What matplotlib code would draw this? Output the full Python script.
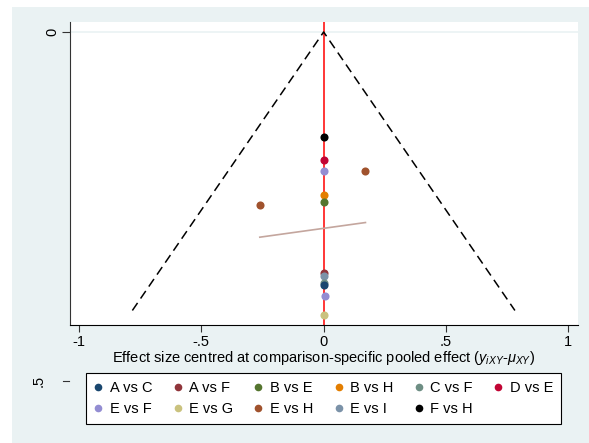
import matplotlib
matplotlib.use("Agg")
import matplotlib.pyplot as plt
from matplotlib.patches import Rectangle
from matplotlib.lines import Line2D
import matplotlib.transforms as mtransforms

plt.rcParams['font.family'] = ['Liberation Sans', 'DejaVu Sans']
plt.rcParams['mathtext.fontset'] = 'custom'
plt.rcParams['mathtext.rm'] = 'Liberation Sans'
plt.rcParams['mathtext.it'] = 'Liberation Sans:italic'

# comparisons (legend order) and their colours
comparisons = ["A vs C", "A vs F", "B vs E", "B vs H", "C vs F", "D vs E",
               "E vs F", "E vs G", "E vs H", "E vs I", "F vs H"]
colors = ["#1a476f", "#90353b", "#55752f", "#e37e00", "#6e8e84", "#c10534",
          "#938dd2", "#cac27e", "#a0522d", "#7b92a8", "#000000"]

# studies: comparison, centred effect, standard error
study_comp = ["F vs H", "D vs E", "E vs F", "E vs H", "B vs H", "B vs E",
              "E vs H", "A vs F", "E vs I", "C vs F", "A vs C", "E vs F", "E vs G"]
study_x = [0.0, 0.0, 0.0, 0.171, 0.0, 0.0, -0.261, 0.0, 0.0, 0.0, 0.0, 0.005, 0.0]
study_se = [0.150, 0.184, 0.199, 0.199, 0.2335, 0.243, 0.248,
            0.346, 0.349, 0.360, 0.363, 0.378, 0.406]

# regression line end points and funnel limit
reg_x = [-0.261, 0.171]
reg_y = [0.294, 0.273]
se_max = 0.399

fig = plt.figure(figsize=(5.89, 4.43), dpi=100, facecolor="white")
fig.patches.append(Rectangle((12 / 589, 0), 1, 1 - 7 / 443, transform=fig.transFigure,
                             facecolor="#eaf2f3", edgecolor="none", zorder=-10))
ax = fig.add_axes([70 / 589, 1 - 325 / 443, 508 / 589, 303 / 443])
ax.set_facecolor("white")

ax.axhline(0, color="#eaf2f3", lw=1.2, zorder=0)
ax.plot([-1.96 * se_max, 0, 1.96 * se_max], [se_max, 0, se_max], color="black",
        lw=1.1, dashes=(6, 3.5))
ax.axvline(0, color="red", lw=1.1, zorder=1)
ax.plot(reg_x, reg_y, color="#c4a69e", lw=1.2, zorder=2)

for c, x, se in zip(study_comp, study_x, study_se):
    ax.scatter(x, se, s=34, color=colors[comparisons.index(c)], zorder=3, linewidths=0)

ax.set_xlim(-1.037, 1.04)
ax.set_ylim(0.4198, -0.0143)

for s in ["top", "right"]:
    ax.spines[s].set_visible(False)
ax.spines["left"].set_color("#333333")
ax.spines["bottom"].set_color("black")

ax.set_xticks([-1, -0.5, 0, 0.5, 1])
ax.set_xticklabels(["-1", "-.5", "0", ".5", "1"])
ax.set_yticks([0])
ax.set_yticklabels(["0"], rotation=90, va="center")
ax.tick_params(axis="x", length=5, width=0.8, color="#333333", labelsize=10.5, pad=2)
ax.tick_params(axis="y", length=6, width=0.8, color="#333333", labelsize=10.5, pad=2)
ax.set_xlabel(r"Effect size centred at comparison-specific pooled effect ($y_{iXY}$-$\mu_{XY}$)",
              fontsize=10.5, labelpad=0)

# the ".5" tick sits below the plot region
trans = mtransforms.blended_transform_factory(ax.transAxes, ax.transData)
ax.plot([-0.0138, -0.001], [0.5, 0.5], transform=trans, color="#333333", lw=0.8,
        clip_on=False)
ax.text(-0.047, 0.5, ".5", transform=trans, rotation=90, ha="right", va="center",
        fontsize=10.5, clip_on=False)

# legend: column-major order so rows read left to right
order = [0, 6, 1, 7, 2, 8, 3, 9, 4, 10, 5]
handles = [Line2D([], [], marker="o", ls="none", markersize=5.5, markeredgewidth=0,
                  color=colors[i]) for i in order]
labels = [comparisons[i] for i in order]
leg = fig.legend(handles, labels, ncol=6, mode="expand",
                 bbox_to_anchor=(86 / 589, 1 - 425 / 443, 475 / 589, 53 / 443),
                 loc="center", fontsize=10.5, frameon=True, fancybox=False,
                 edgecolor="black", framealpha=1, handlelength=0.6, handletextpad=0.5,
                 borderpad=0.55, labelspacing=0.45, borderaxespad=0, columnspacing=1.0)
leg.get_frame().set_linewidth(0.8)

fig.savefig("out.png", dpi=100, facecolor=fig.get_facecolor())
